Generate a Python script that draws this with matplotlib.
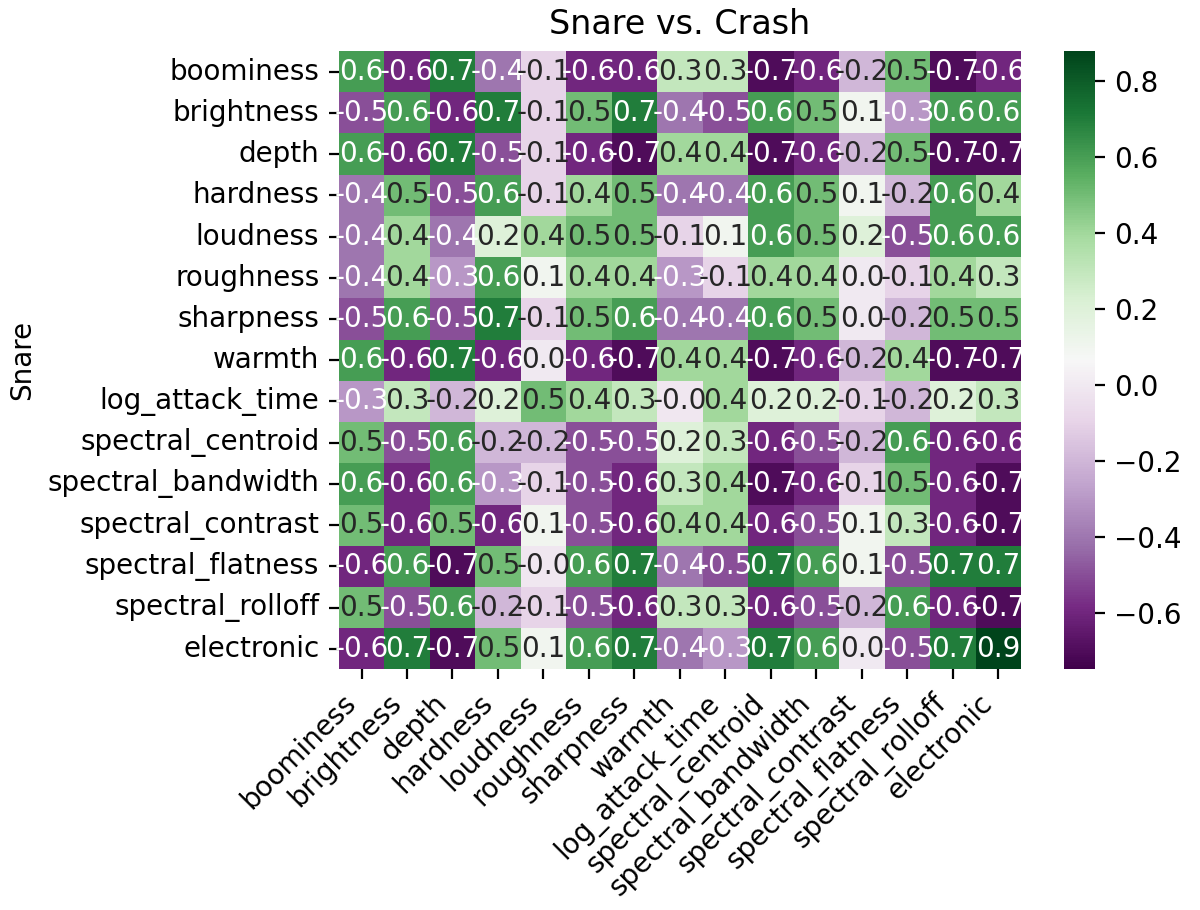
import numpy as np
import pandas as pd
import matplotlib
matplotlib.use("Agg")
import matplotlib.pyplot as plt
import seaborn as sns

features = ["boominess", "brightness", "depth", "hardness", "loudness", "roughness",
            "sharpness", "warmth", "log_attack_time", "spectral_centroid",
            "spectral_bandwidth", "spectral_contrast", "spectral_flatness",
            "spectral_rolloff", "electronic"]

# values (rounded to one decimal; -0.01 shown as -0.0)
corr = [
    [0.6, -0.6, 0.7, -0.4, -0.1, -0.6, -0.6, 0.3, 0.3, -0.7, -0.6, -0.2, 0.5, -0.7, -0.6],
    [-0.5, 0.6, -0.6, 0.7, -0.1, 0.5, 0.7, -0.4, -0.5, 0.6, 0.5, 0.1, -0.3, 0.6, 0.6],
    [0.6, -0.6, 0.7, -0.5, -0.1, -0.6, -0.7, 0.4, 0.4, -0.7, -0.6, -0.2, 0.5, -0.7, -0.7],
    [-0.4, 0.5, -0.5, 0.6, -0.1, 0.4, 0.5, -0.4, -0.4, 0.6, 0.5, 0.1, -0.2, 0.6, 0.4],
    [-0.4, 0.4, -0.4, 0.2, 0.4, 0.5, 0.5, -0.1, 0.1, 0.6, 0.5, 0.2, -0.5, 0.6, 0.6],
    [-0.4, 0.4, -0.3, 0.6, 0.1, 0.4, 0.4, -0.3, -0.1, 0.4, 0.4, 0.0, -0.1, 0.4, 0.3],
    [-0.5, 0.6, -0.5, 0.7, -0.1, 0.5, 0.6, -0.4, -0.4, 0.6, 0.5, 0.0, -0.2, 0.5, 0.5],
    [0.6, -0.6, 0.7, -0.6, 0.0, -0.6, -0.7, 0.4, 0.4, -0.7, -0.6, -0.2, 0.4, -0.7, -0.7],
    [-0.3, 0.3, -0.2, 0.2, 0.5, 0.4, 0.3, -0.01, 0.4, 0.2, 0.2, -0.1, -0.2, 0.2, 0.3],
    [0.5, -0.5, 0.6, -0.2, -0.2, -0.5, -0.5, 0.2, 0.3, -0.6, -0.5, -0.2, 0.6, -0.6, -0.6],
    [0.6, -0.6, 0.6, -0.3, -0.1, -0.5, -0.6, 0.3, 0.4, -0.7, -0.6, -0.1, 0.5, -0.6, -0.7],
    [0.5, -0.6, 0.5, -0.6, 0.1, -0.5, -0.6, 0.4, 0.4, -0.6, -0.5, 0.1, 0.3, -0.6, -0.7],
    [-0.6, 0.6, -0.7, 0.5, -0.01, 0.6, 0.7, -0.4, -0.5, 0.7, 0.6, 0.1, -0.5, 0.7, 0.7],
    [0.5, -0.5, 0.6, -0.2, -0.1, -0.5, -0.6, 0.3, 0.3, -0.6, -0.5, -0.2, 0.6, -0.6, -0.7],
    [-0.6, 0.7, -0.7, 0.5, 0.1, 0.6, 0.7, -0.4, -0.3, 0.7, 0.6, 0.0, -0.5, 0.7, 0.88],
]

df = pd.DataFrame(corr, index=features, columns=features)

fig, ax = plt.subplots(figsize=(6.0, 4.55), dpi=200)
sns.heatmap(df, cmap="PRGn", annot=True, fmt=".1f", vmin=-0.75, vmax=0.88,
            ax=ax, annot_kws={"size": 10})
ax.set_title("Snare vs. Crash")
ax.set_ylabel("Snare")
ax.set_xticklabels(ax.get_xticklabels(), rotation=45, ha="right")
fig.tight_layout(pad=0.3)
fig.savefig("out.png")
